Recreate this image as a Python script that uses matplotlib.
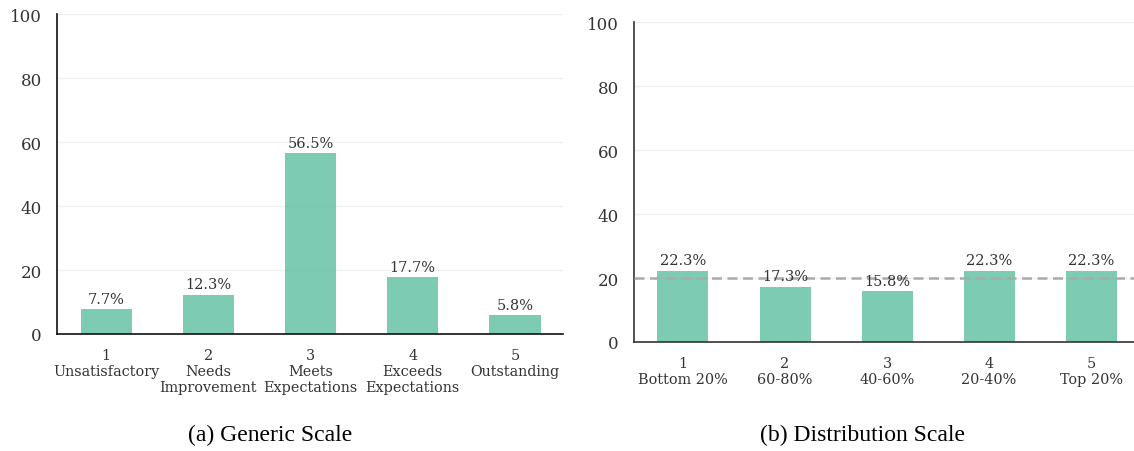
import matplotlib
matplotlib.use("Agg")
import matplotlib.pyplot as plt

# Share of ratings (%) on each scale
generic_labels = ["1\nUnsatisfactory", "2\nNeeds\nImprovement", "3\nMeets\nExpectations",
                  "4\nExceeds\nExpectations", "5\nOutstanding"]
generic_values = [7.7, 12.3, 56.5, 17.7, 5.8]

dist_labels = ["1\nBottom 20%", "2\n60-80%", "3\n40-60%", "4\n20-40%", "5\nTop 20%"]
dist_values = [22.3, 17.3, 15.8, 22.3, 22.3]
uniform_share = 20

yticks = [0, 20, 40, 60, 80, 100]
captions = ["(a) Generic Scale", "(b) Distribution Scale"]

bar_color = "#66c2a5"
text_color = "#333333"
plt.rcParams["font.family"] = ["DejaVu Serif"]

fig = plt.figure(figsize=(11.34, 4.52), dpi=100)
W, H = 1134, 452


def px_axes(x0, x1, ytop, ybot):
    return fig.add_axes([x0 / W, (H - ybot) / H, (x1 - x0) / W, (ybot - ytop) / H])


def draw_panel(ax, labels, values, xlim, spine_color):
    x = list(range(len(values)))
    ax.bar(x, values, width=0.5, color=bar_color, alpha=0.85, zorder=2)
    for xi, v in zip(x, values):
        ax.text(xi, v + 1.0, f"{v:.1f}%", ha="center", va="bottom",
                fontsize=10.5, color=text_color, zorder=4)
    ax.set_xlim(*xlim)
    ax.set_ylim(0, 100)
    ax.set_yticks(yticks)
    ax.set_xticks(x)
    ax.set_xticklabels(labels, fontsize=10.4, color=text_color, linespacing=1.2)
    ax.tick_params(axis="y", labelsize=12, colors=text_color, length=0, pad=11)
    ax.tick_params(axis="x", length=0, pad=10)
    ax.grid(axis="y", color="#f0f0f0", linewidth=1, zorder=0)
    ax.set_axisbelow(True)
    for s in ("top", "right"):
        ax.spines[s].set_visible(False)
    for s in ("left", "bottom"):
        ax.spines[s].set_color(spine_color)
        ax.spines[s].set_linewidth(1.2)


ax1 = px_axes(57, 563, 15, 335)
draw_panel(ax1, generic_labels, generic_values, (-0.48, 4.47), "#111111")

ax2 = px_axes(634, 1134, 23, 343)
draw_panel(ax2, dist_labels, dist_values, (-0.48, 4.42), "#333333")
ax2.axhline(uniform_share, color="#aaaaaa", linestyle=(0, (4, 2.2)), linewidth=1.8, zorder=3)

fig.text(270 / W, 1 - 441 / H, captions[0], ha="center", va="baseline",
         fontsize=17, family="Liberation Serif", color="black")
fig.text(862 / W, 1 - 441 / H, captions[1], ha="center", va="baseline",
         fontsize=17, family="Liberation Serif", color="black")

fig.savefig("out.png", dpi=100)
